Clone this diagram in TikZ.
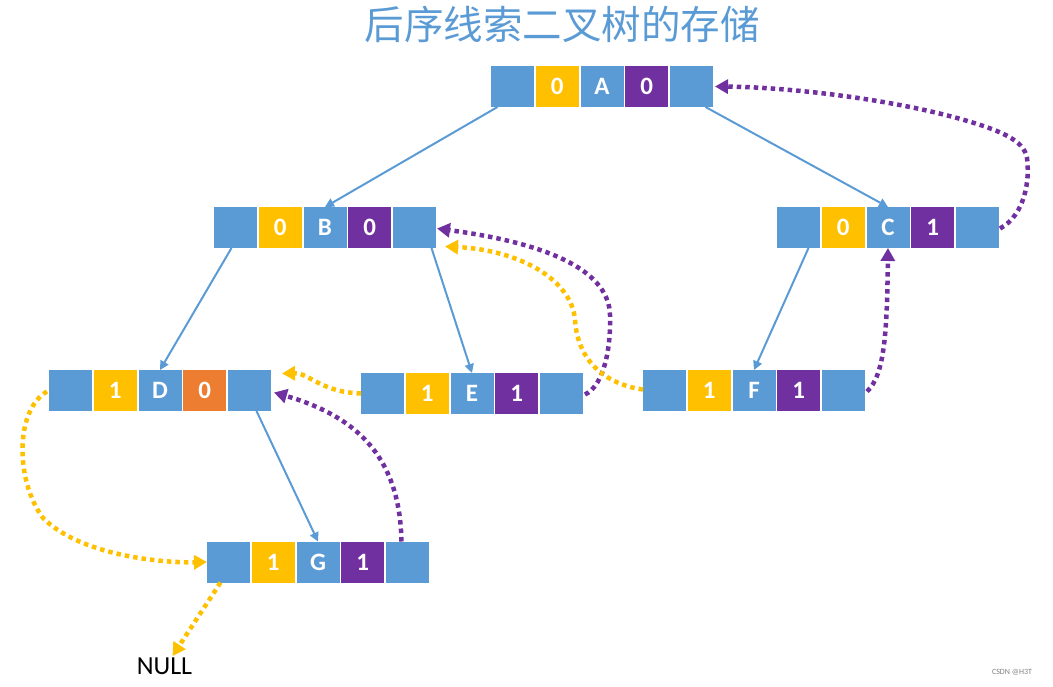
\documentclass[tikz,border=0pt]{standalone}
\usepackage{fontspec}
\setmainfont{Carlito}
\newfontfamily\cjk{Noto Sans CJK SC}
\usetikzlibrary{arrows.meta}
\definecolor{cblue}{HTML}{5B9BD5}
\definecolor{cyellow}{HTML}{FFC000}
\definecolor{cpurple}{HTML}{7030A0}
\definecolor{corange}{HTML}{ED7D31}
\tikzset{
  cell/.style={minimum width=43pt, minimum height=41pt, inner sep=0pt, outer sep=0pt,
    text=white, font=\bfseries\fontsize{25}{25}\selectfont},
  tree/.style={draw=cblue, line width=2pt, -{Triangle[length=9pt,width=9pt]}},
  thread/.style={line width=4.5pt, dash pattern=on 4.5pt off 4pt, -{Triangle[length=13pt,width=14pt]}},
  pthread/.style={thread, draw=cpurple},
  ythread/.style={thread, draw=cyellow},
}
\newcommand\rec[7]{%
  \node[cell,fill=cblue] (#1-1) at (#2+21.5,#3) {};
  \node[cell,fill=cyellow] (#1-2) at (#2+66.25,#3) {#4};
  \node[cell,fill=cblue] (#1-3) at (#2+111,#3) {#5};
  \node[cell,fill=#7] (#1-4) at (#2+155.75,#3) {#6};
  \node[cell,fill=cblue] (#1-5) at (#2+200.5,#3) {};
}
\begin{document}
\begin{tikzpicture}[x=1pt,y=-1pt]
\useasboundingbox (0,0) rectangle (1053,686);
\node[font=\cjk\fontsize{39.5}{39.5}\selectfont, text=cblue] (title) at (562,24) {后序线索二叉树的存储};
\rec{A}{491}{86.5}{0}{A}{0}{cpurple}
\rec{B}{214}{227.5}{0}{B}{0}{cpurple}
\rec{C}{777}{227.5}{0}{C}{1}{cpurple}
\rec{D}{49}{390.5}{1}{D}{0}{corange}
\rec{E}{361}{393.5}{1}{E}{1}{cpurple}
\rec{F}{643}{390.5}{1}{F}{1}{cpurple}
\rec{G}{207}{562}{1}{G}{1}{cpurple}
\node[font=\fontsize{26}{26}\selectfont] (null) at (164.5,666) {NULL};
\node[font=\fontsize{8}{8}\selectfont, text=gray] (wm) at (1012,672) {CSDN @H3T};
% tree edges
\draw[tree] ([xshift=-15pt]A-1.south) -- (B-3.north);
\draw[tree] ([xshift=14pt]A-5.south) -- (C-3.north);
\draw[tree] ([xshift=-4pt]B-1.south) -- (D-3.north);
\draw[tree] ([xshift=17pt]B-5.south) -- (E-3.north);
\draw[tree] ([xshift=10pt]C-1.south) -- (F-3.north);
\draw[tree] ([xshift=7pt]D-5.south) -- (G-3.north);
% threads
\draw[pthread] ([shift={(1,1)}]C-5.east) .. controls (1025,215) and (1030,180) .. (1027,158)
  .. controls (1024,140) and (1000,130) .. (957,118) .. controls (880,97) and (780,87) .. ([xshift=2pt]A-5.east);
\draw[pthread] ([shift={(2,1)}]E-5.east) .. controls (605,385) and (611,345) .. (610,315)
  .. controls (609,275) and (560,245) .. ([shift={(1,1)}]B-5.east);
\draw[ythread] ([yshift=1pt]F-1.west) .. controls (610,385) and (578,365) .. (575,320)
  .. controls (572,280) and (520,250) .. ([shift={(9,19)}]B-5.east);
\draw[ythread] (E-1.west) .. controls (320,392) and (310,373) .. ([shift={(11,-17)}]D-5.east);
\draw[pthread] ([xshift=-6pt]G-5.north) .. controls (400,470) and (370,420) .. ([shift={(3,2)}]D-5.east);
\draw[ythread] ([shift={(-2,1)}]D-1.west) .. controls (15,410) and (15,480) .. (43,518)
  .. controls (80,555) and (160,563) .. (G-1.west);
\draw[ythread] ([xshift=-8pt]G-1.south) -- ([xshift=8pt,yshift=-2pt]null.north);
\draw[pthread] ([shift={(2,1)}]F-5.east) .. controls (885,375) and (887,330) .. (C-3.south);
\end{tikzpicture}
\end{document}
